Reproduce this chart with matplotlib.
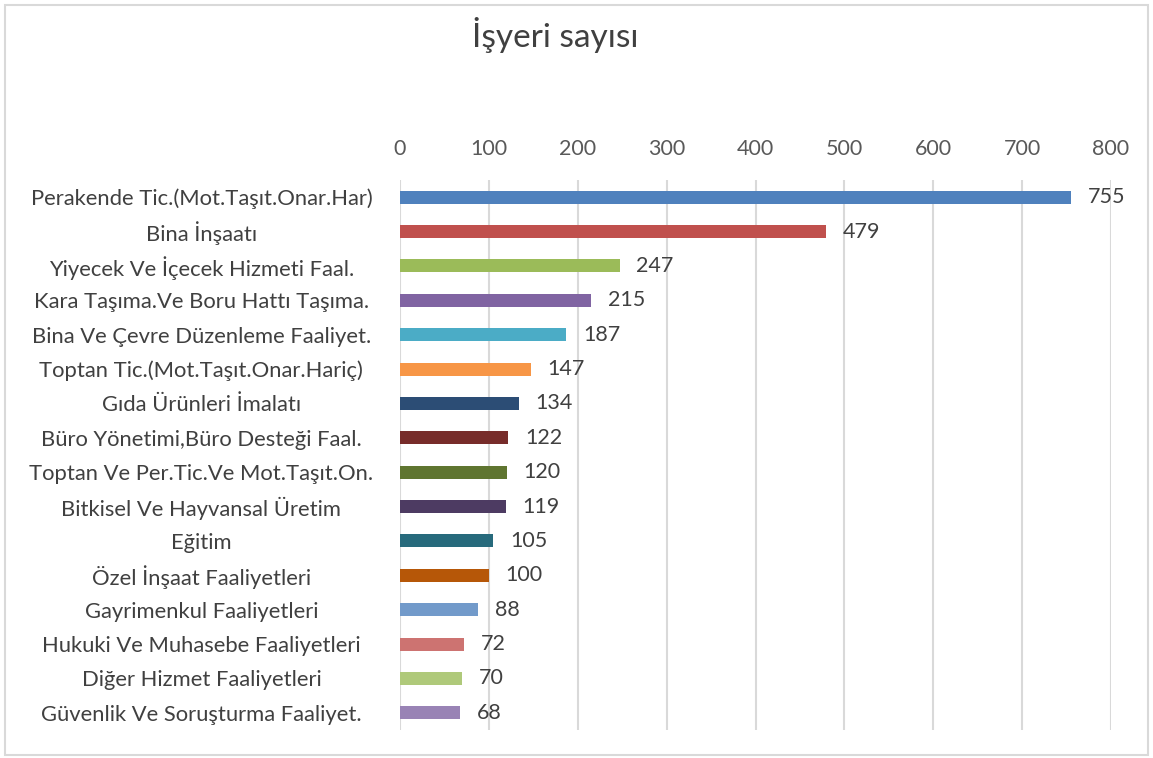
import matplotlib.pyplot as plt
from matplotlib.patches import Rectangle

# data
categories = ['Perakende Tic.(Mot.Taşıt.Onar.Har)', 'Bina İnşaatı', 'Yiyecek Ve İçecek Hizmeti Faal.',
              'Kara Taşıma.Ve Boru Hattı Taşıma.', 'Bina Ve Çevre Düzenleme Faaliyet.',
              'Toptan Tic.(Mot.Taşıt.Onar.Hariç)', 'Gıda Ürünleri İmalatı', 'Büro Yönetimi,Büro Desteği Faal.',
              'Toptan Ve Per.Tic.Ve Mot.Taşıt.On.', 'Bitkisel Ve Hayvansal Üretim', 'Eğitim',
              'Özel İnşaat Faaliyetleri', 'Gayrimenkul Faaliyetleri', 'Hukuki Ve Muhasebe Faaliyetleri',
              'Diğer Hizmet Faaliyetleri', 'Güvenlik Ve Soruşturma Faaliyet.']
values = [755, 479, 247, 215, 187, 147, 134, 122, 120, 119, 105, 100, 88, 72, 70, 68]
colors = ['#4F81BD', '#C0504D', '#9BBB59', '#8064A2', '#4BACC6', '#F79646', '#2C4D75', '#772C2A',
          '#5F7530', '#4D3B62', '#276A7C', '#B65708', '#729ACA', '#CD7371', '#AFC97A', '#9983B5']
xticks = [0, 100, 200, 300, 400, 500, 600, 700, 800]

plt.rcParams['font.family'] = ['Lato', 'DejaVu Sans']

fig = plt.figure(figsize=(11.53, 7.58), dpi=100)
ax = fig.add_axes([400/1153, 1-730/758, 711/1153, 550/758])

ypos = list(range(len(categories)))
ax.barh(ypos, values, height=0.38, color=colors, zorder=3)
for y, v in zip(ypos, values):
    ax.annotate(str(v), (v, y), xytext=(12, 0), textcoords='offset points',
                va='center', ha='left', fontsize=15.5, color='#404040')

ax.set_xlim(0, 800)
ax.set_ylim(15.5, -0.5)
ax.set_xticks(xticks)
ax.xaxis.tick_top()
ax.grid(axis='x', color='#D9D9D9', linewidth=1.5, zorder=0)
ax.set_yticks(ypos)
ax.set_yticklabels(categories, ha='center')
ax.tick_params(axis='y', length=0, pad=143, labelsize=15.8, labelcolor='#404040')
ax.tick_params(axis='x', length=0, pad=15, labelsize=15.5, labelcolor='#595959')
for s in ax.spines.values():
    s.set_visible(False)

fig.text(555/1153, 1-35/758, 'İşyeri sayısı', ha='center', va='center', fontsize=24, color='#404040')
fig.patches.append(Rectangle((5/1153, 3/758), 1143/1153, 750/758, transform=fig.transFigure,
                             fill=False, edgecolor='#D9D9D9', linewidth=1.5))

fig.savefig('out.png', dpi=100)
